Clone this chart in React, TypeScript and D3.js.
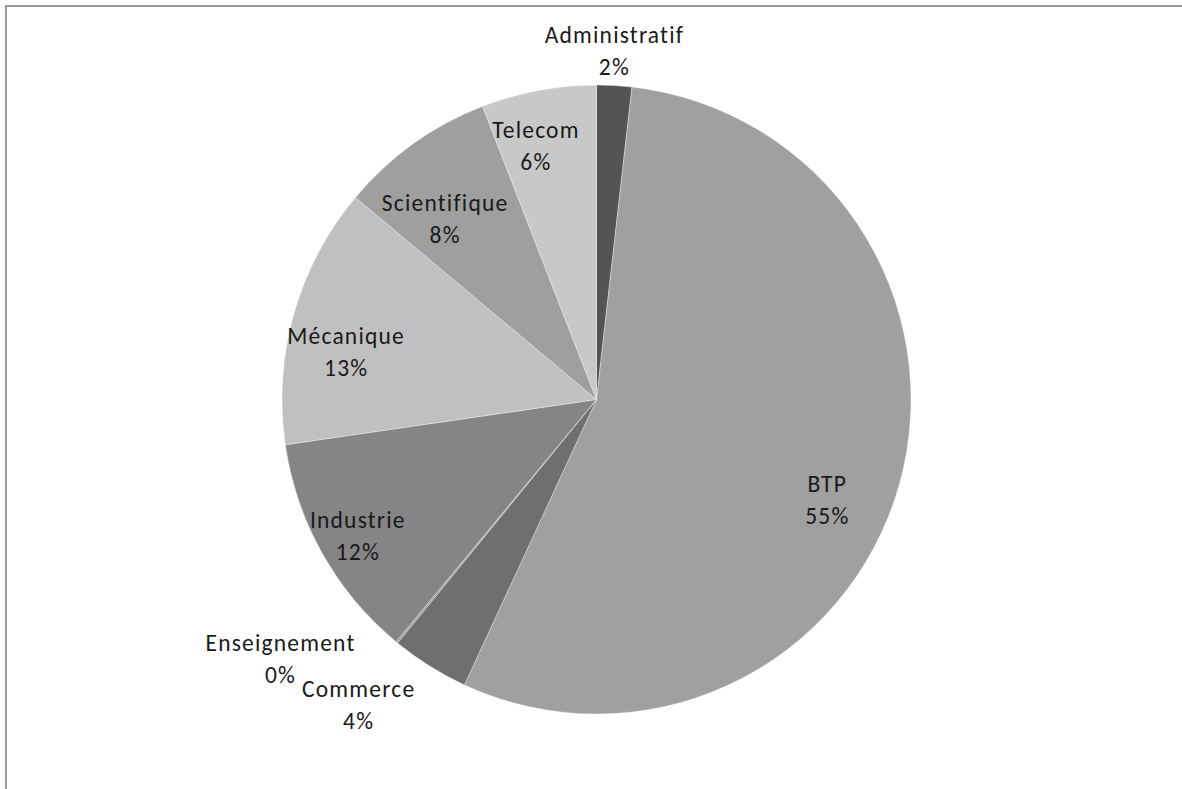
import React from "react";
import * as d3 from "d3";

const categories = ["Administratif", "BTP", "Commerce", "Enseignement", "Industrie", "Mécanique", "Scientifique", "Telecom"];
const values = [1.8, 55.1, 4.0, 0.1, 11.7, 13.4, 8.0, 5.9];
const colors = ["#545454", "#a0a0a0", "#6f6f6f", "#9a9a9a", "#858585", "#c0c0c0", "#9f9f9f", "#c8c8c8"];
// label placement: radius factor and angular nudge (degrees)
const labelRadius = [1.11, 0.8, 1.23, 1.3, 0.875, 0.81, 0.75, 0.83];
const labelNudge = [-0.3, 7.8, 5.9, 11.2, -0.5, -5.2, -4.3, -2.8];

const W = 1182;
const H = 789;
const cx = 596.5;
const cy = 399.5;
const R = 314.5;

export default function App() {
  const total = d3.sum(values);
  const pie = d3.pie<number>().sort(null).value((d) => d)(values);
  const arc = d3.arc<d3.PieArcDatum<number>>().innerRadius(0).outerRadius(R);
  const font = "Carlito, Calibri, Lato, 'Open Sans', sans-serif";
  return (
    <svg width={W} height={H} style={{ position: "absolute", left: 0, top: 0, background: "#fff" }}>
      <rect x={6} y={6} width={1300} height={1000} fill="#fff" stroke="#9a9a9a" strokeWidth={2} />
      <g transform={`translate(${cx},${cy})`}>
        {pie.map((p, i) => (
          <path key={i} d={arc(p) || ""} fill={colors[i]} stroke="#ffffff" strokeOpacity={0.45} strokeWidth={0.75} />
        ))}
        {pie.map((p, i) => {
          const mid = (p.startAngle + p.endAngle) / 2 + (labelNudge[i] * Math.PI) / 180;
          const r = R * labelRadius[i];
          const x = r * Math.sin(mid);
          const y = -r * Math.cos(mid);
          const pct = Math.round((values[i] / total) * 100) + "%";
          return (
            <text key={"l" + i} x={x} y={y} textAnchor="middle" fontFamily={font} fontSize={23.5} letterSpacing={1.2} fill="#1a1a1a">
              <tspan x={x} dy={-16} dominantBaseline="central">{categories[i]}</tspan>
              <tspan x={x} dy={32} dominantBaseline="central">{pct}</tspan>
            </text>
          );
        })}
      </g>
    </svg>
  );
}
